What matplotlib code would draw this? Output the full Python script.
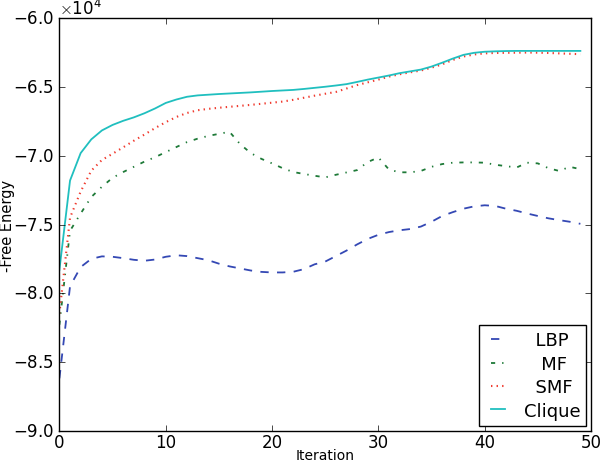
import numpy as np
import matplotlib
matplotlib.use('Agg')
from matplotlib import pyplot as plt

iterations = list(range(50))

lbp = [-86200, -79500, -78100, -77500, -77320, -77350, -77450, -77570, -77640, -77550,
       -77350, -77240, -77300, -77450, -77600, -77850, -78050, -78200, -78350, -78450,
       -78490, -78490, -78440, -78250, -77900, -77700, -77300, -76900, -76450, -76050,
       -75750, -75550, -75420, -75330, -75150, -74800, -74380, -74100, -73850, -73680,
       -73600, -73650, -73850, -74000, -74200, -74380, -74550, -74680, -74800, -74950]

mf = [-82300, -75460, -74200, -73000, -72250, -71600, -71180, -70800, -70420, -70100,
      -69730, -69360, -69000, -68750, -68550, -68400, -68250, -69150, -69800, -70220,
      -70550, -70900, -71180, -71320, -71450, -71570, -71380, -71210, -71040, -70450,
      -70120, -71000, -71200, -71200, -71100, -70800, -70600, -70500, -70480, -70480,
      -70500, -70650, -70750, -70850, -70500, -70550, -70900, -71100, -70800, -70970]

smf = [-81500, -74500, -72600, -71080, -70300, -69850, -69380, -68900, -68450, -67980,
       -67550, -67170, -66880, -66680, -66580, -66500, -66430, -66360, -66290, -66210,
       -66130, -66050, -65920, -65770, -65620, -65480, -65350, -65100, -64850, -64650,
       -64450, -64230, -64060, -63920, -63790, -63580, -63340, -63020, -62770, -62620,
       -62540, -62510, -62500, -62490, -62480, -62490, -62510, -62540, -62570, -62600]

clique = [-78300, -71800, -69800, -68800, -68150, -67750, -67450, -67200, -66900, -66550,
          -66150, -65900, -65700, -65600, -65550, -65500, -65460, -65420, -65380, -65330,
          -65280, -65240, -65200, -65130, -65050, -64970, -64880, -64780, -64620, -64450,
          -64300, -64150, -63980, -63850, -63720, -63500, -63220, -62920, -62650, -62500,
          -62420, -62390, -62370, -62360, -62360, -62360, -62360, -62360, -62360, -62360]

plt.style.use('classic')
plt.rcParams['figure.facecolor'] = 'white'

fig = plt.figure(figsize=(6, 4.64), dpi=100)
ax = fig.add_axes([0.099, 0.070, 0.886, 0.888])

ax.plot(iterations, lbp, '--', color='#3448b4', lw=1.3, label='  LBP')
ax.plot(iterations, mf, '-.', color='#1e7a38', lw=1.3, label='   MF')
ax.plot(iterations, smf, ':', color='#f03a2e', lw=1.5, label='  SMF')
ax.plot(iterations, clique, '-', color='#20bfbf', lw=1.3, label='Clique')

ax.set_xlim(0, 50)
ax.set_ylim(-90000, -60000)
ax.tick_params(axis='x', pad=2)
ax.tick_params(axis='y', pad=4)
ax.set_xlabel('Iteration', fontsize=10, labelpad=-2.5)
ax.set_ylabel('-Free Energy', fontsize=10.5, labelpad=-2)
ax.ticklabel_format(axis='y', style='sci', scilimits=(0, 0), useMathText=True)
ax.legend(loc='lower right', fontsize=13, handlelength=1.4, labelspacing=0.3,
          handletextpad=0.7, borderpad=0.35, borderaxespad=0.25)

fig.savefig('out.png', dpi=100)
